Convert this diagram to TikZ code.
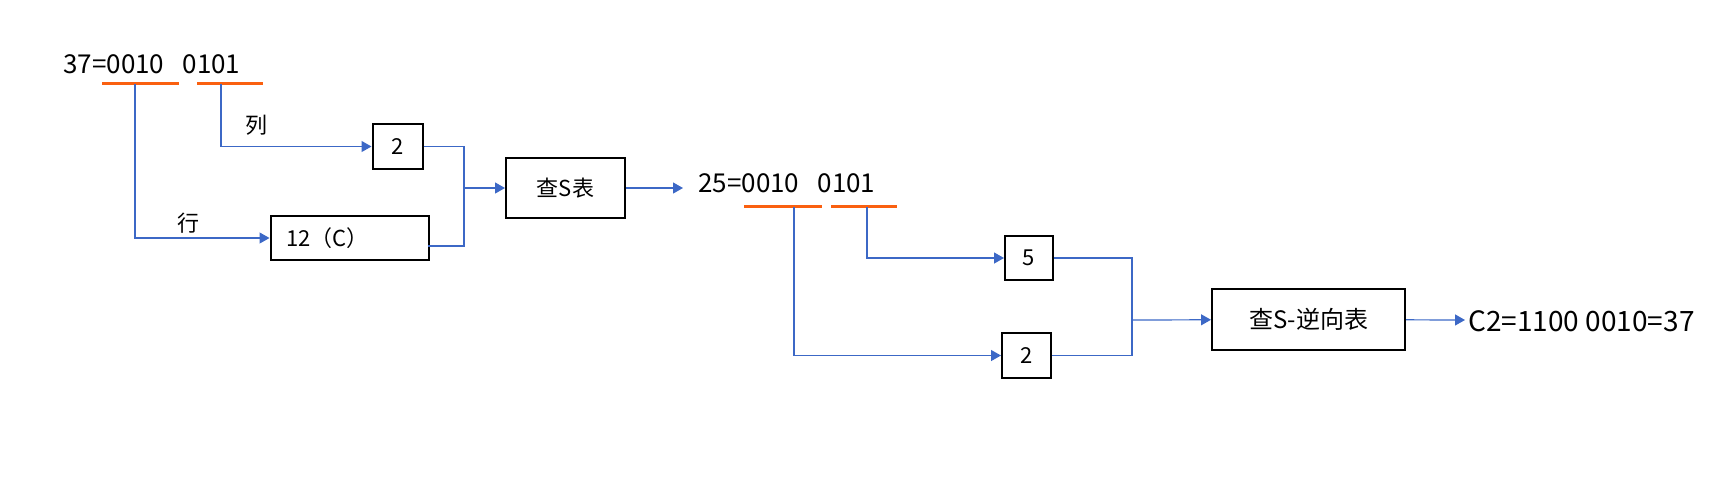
\documentclass[tikz,border=0pt]{standalone}
\usepackage{fontspec}
\setmainfont{Noto Sans CJK SC}
\usetikzlibrary{arrows.meta}
\definecolor{linkblue}{RGB}{60,104,198}
\definecolor{markorange}{RGB}{250,96,16}
\tikzset{
  box/.style={draw, line width=1pt, inner sep=0pt, font=\fontsize{11}{13}\selectfont},
  num/.style={inner sep=0pt, font=\fontsize{13}{15}\selectfont},
  lab/.style={inner sep=0pt, font=\fontsize{11}{13}\selectfont},
  link/.style={draw=linkblue, line width=0.6pt},
  arr/.style={link, -{Triangle[length=5pt,width=5.5pt]}},
  uline/.style={draw=markorange, line width=1.5pt}
}
\begin{document}
\begin{tikzpicture}[x=0.5pt,y=-0.5pt]
\useasboundingbox (0,0) rectangle (1717,500);
% first half: 37 into the S table
\node[num, anchor=base west] (n37) at (63,73) {37=0010\hspace{0.7em}0101};
\draw[uline] (102,83) -- (179,83);
\draw[uline] (197,83) -- (263,83);
\coordinate (r37) at (135,84);
\coordinate (c37) at (221,84);
\node[lab] (lie) at (256,125) {列};
\node[lab] (hang) at (188,223) {行};
\node[box, minimum width=25pt, minimum height=22.5pt] (col1) at (397.5,146.5) {2};
\node[box, minimum height=22pt, text width=63pt, inner xsep=8pt] (row1) at (349.5,238) {12（C）};
\node[box, minimum width=59.5pt, minimum height=30pt] (sbox) at (565.5,188) {查S表};
\draw[arr] (c37) |- (col1);
\draw[arr] (r37) |- (row1);
\coordinate (j1) at (464,188);
\draw[link] (col1.east) -| (j1);
\draw[link] ([shift={(-1pt,-4pt)}]row1.east) -| (j1);
\draw[arr] (j1) -- (sbox);
\coordinate (a25) at (683,188);
\draw[arr] (sbox) -- (a25);
% second half: 25 into the inverse table
\node[num, anchor=base west] (n25) at (698,192) {25=0010\hspace{0.7em}0101};
\draw[uline] (744,206) -- (822,206);
\draw[uline] (831,206) -- (897,206);
\coordinate (r25) at (794,207);
\coordinate (c25) at (867,207);
\node[box, minimum width=24pt, minimum height=22pt] (col2) at (1029,258) {5};
\node[box, minimum width=24.5pt, minimum height=22.5pt] (row2) at (1026.5,355.5) {2};
\draw[arr] (c25) |- (col2);
\draw[arr] (r25) |- (row2);
\coordinate (j2) at (1132,320);
\draw[link] (col2.east) -| (j2);
\draw[link] (row2.east) -| (j2);
\node[box, minimum width=96.5pt, minimum height=30.5pt, font=\fontsize{12}{14}\selectfont] (sinv) at (1308.5,319.5) {查S-逆向表};
\draw[arr] (j2) -- (sinv);
\coordinate (a37) at (1465,320);
\draw[arr] (sinv) -- (a37);
\node[num, anchor=west, font=\fontsize{14}{16}\selectfont] (res) at (1468,321) {C2=1100 0010=37};
\end{tikzpicture}
\end{document}
